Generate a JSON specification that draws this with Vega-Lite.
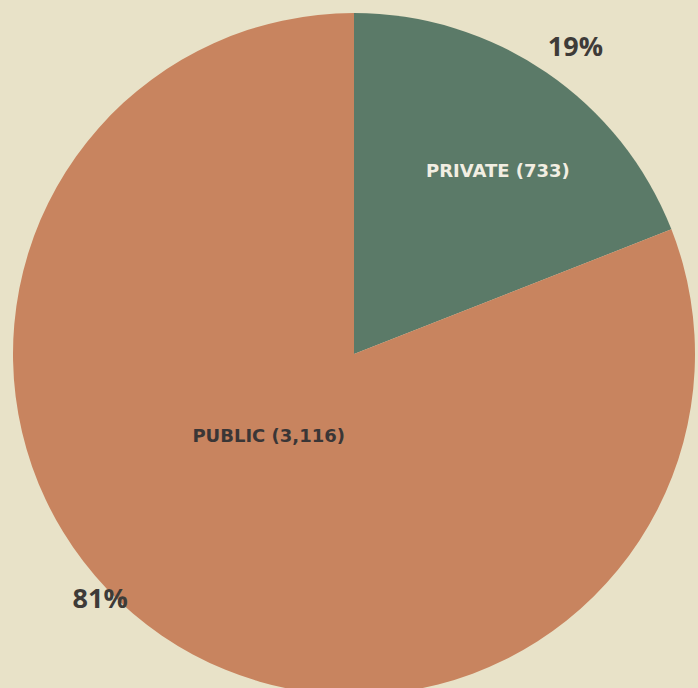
{
  "$schema": "https://vega.github.io/schema/vega-lite/v6.json",
  "width": 698,
  "height": 688,
  "autosize": {"type": "fit", "contains": "padding"},
  "padding": {"left": 10, "top": 20, "right": 0, "bottom": 0},
  "background": "#e8e2c8",
  "config": {"view": {"stroke": null}},
  "data": {"values": [
    {"cat": "Private", "value": 733, "label": "PRIVATE (733)", "pct": "19%"},
    {"cat": "Public", "value": 3116, "label": "PUBLIC (3,116)", "pct": "81%"}
  ]},
  "encoding": {
    "theta": {"field": "value", "type": "quantitative", "stack": true},
    "order": {"field": "cat", "type": "nominal"}
  },
  "layer": [
    {
      "mark": {"type": "arc", "outerRadius": 341},
      "encoding": {
        "color": {"field": "cat", "type": "nominal", "scale": {"domain": ["Private", "Public"], "range": ["#5b7a68", "#c8845f"]}, "legend": null}
      }
    },
    {
      "mark": {"type": "text", "radius": 220, "dx": 20, "font": "DejaVu Sans", "fontWeight": "bold", "fontSize": 18, "fill": "#f2eee2", "align": "center", "baseline": "middle"},
      "encoding": {"text": {"condition": {"test": "datum.cat === 'Private'", "field": "label"}, "value": ""}}
    },
    {
      "mark": {"type": "text", "radius": 100, "dx": -29, "font": "DejaVu Sans", "fontWeight": "bold", "fontSize": 18, "fill": "#3a3636", "align": "center", "baseline": "middle"},
      "encoding": {"text": {"condition": {"test": "datum.cat === 'Public'", "field": "label"}, "value": ""}}
    },
    {
      "mark": {"type": "text", "radius": 370, "dx": 13, "font": "Open Sans", "fontWeight": "bold", "fontSize": 27, "fill": "#3e3b38", "align": "center", "baseline": "middle"},
      "encoding": {"text": {"condition": {"test": "datum.cat === 'Private'", "field": "pct"}, "value": ""}}
    },
    {
      "mark": {"type": "text", "radius": 298, "dx": -86, "font": "Open Sans", "fontWeight": "bold", "fontSize": 27, "fill": "#3e3b38", "align": "center", "baseline": "middle"},
      "encoding": {"text": {"condition": {"test": "datum.cat === 'Public'", "field": "pct"}, "value": ""}}
    }
  ]
}
